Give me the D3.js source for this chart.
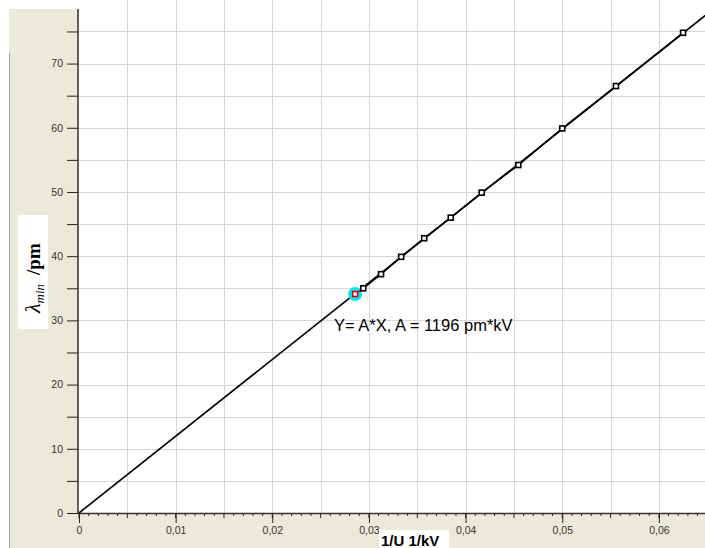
<!DOCTYPE html>
<html>
<head>
<meta charset="utf-8">
<script src="https://cdn.jsdelivr.net/npm/d3@7"></script>
<style>
  html, body { margin: 0; padding: 0; background: #fff; }
  svg { display: block; }
  .tick text { font-family: "Liberation Sans Narrow", "Liberation Sans", Arial, sans-serif; font-size: 10.5px; fill: #333; }
</style>
</head>
<body>
<div id="chart"></div>
<script>
// accelerating voltage U in kV and measured lambda_min in pm
const voltage = [35, 34, 32, 30, 28, 26, 24, 22, 20, 18, 16];
const lambdaMin = [34.1, 35.0, 37.2, 39.9, 42.8, 46.0, 49.9, 54.2, 59.9, 66.5, 74.8];
const slopeA = 1196;
const xTicks = [0, 0.01, 0.02, 0.03, 0.04, 0.05, 0.06];
const yTicks = [0, 10, 20, 30, 40, 50, 60, 70];

const width = 705;
const height = 548;
const points = voltage.map((u, i) => ({ x: 1 / u, y: lambdaMin[i] }));

const svg = d3.select('#chart').append('svg')
  .attr('width', width)
  .attr('height', height);

const xScale = d3.scaleLinear().domain([0, 0.0648]).range([79, 705.3]);
const yScale = d3.scaleLinear().domain([0, 78.5]).range([513, 9]);

// panel background
svg.append('rect').attr('x', 9).attr('y', 9).attr('width', width - 9).attr('height', height - 9).attr('fill', '#ece9d8');
svg.append('line').attr('x1', 9.5).attr('x2', 9.5).attr('y1', 53).attr('y2', height).attr('stroke', '#a9a79c');
svg.append('rect').attr('x', 79).attr('y', 0).attr('width', width - 79).attr('height', 513).attr('fill', '#fff');

// grid
const grid = svg.append('g');
grid.selectAll('.vg').data(d3.range(0.005, 0.065, 0.005)).enter().append('line')
  .attr('x1', d => Math.round(xScale(d)) + 0.5).attr('x2', d => Math.round(xScale(d)) + 0.5)
  .attr('y1', 0).attr('y2', 513)
  .attr('stroke', '#d6d6d6');
grid.selectAll('.hg').data(d3.range(5, 80, 5)).enter().append('line')
  .attr('x1', 79).attr('x2', width)
  .attr('y1', d => Math.round(yScale(d)) + 0.5).attr('y2', d => Math.round(yScale(d)) + 0.5)
  .attr('stroke', '#d6d6d6');

// x axis
const xAxis = d3.axisBottom(xScale)
  .tickValues(xTicks)
  .tickSize(10)
  .tickPadding(4)
  .tickFormat(d => d === 0 ? '0' : d3.format('.2f')(d).replace('.', ','));
const gx = svg.append('g').attr('transform', 'translate(0,513)').call(xAxis);
gx.select('.domain').remove();
gx.selectAll('.tick line').attr('stroke', '#222');
svg.append('g').selectAll('line').data(d3.range(0, 0.065, 0.001)).enter().append('line')
  .attr('x1', d => xScale(d)).attr('x2', d => xScale(d))
  .attr('y1', 513).attr('y2', (d, i) => i % 5 === 0 ? 518 : 516)
  .attr('stroke', '#222');
svg.append('line').attr('x1', 78).attr('x2', width).attr('y1', 513.5).attr('y2', 513.5).attr('stroke', '#333').attr('stroke-width', 1.5);

// y axis
const yAxis = d3.axisLeft(yScale)
  .tickValues(d3.range(0, 80, 5))
  .tickSize(11)
  .tickPadding(4)
  .tickFormat(d => yTicks.includes(d) ? d : '');
const gy = svg.append('g').attr('transform', 'translate(78,0)').call(yAxis);
gy.select('.domain').remove();
gy.selectAll('.tick line').attr('stroke', '#222');
svg.append('line').attr('x1', 78).attr('x2', 78).attr('y1', 9).attr('y2', 514).attr('stroke', '#333').attr('stroke-width', 1.5);

// fit line Y = A*X
const line = d3.line().x(d => xScale(d.x)).y(d => yScale(d.y));
svg.append('path')
  .datum([{ x: 0, y: 0 }, { x: 0.0648, y: slopeA * 0.0648 }])
  .attr('d', line)
  .attr('fill', 'none').attr('stroke', '#000').attr('stroke-width', 1.6);

// measured data line
svg.append('path')
  .datum(points)
  .attr('d', line)
  .attr('fill', 'none').attr('stroke', '#000').attr('stroke-width', 1.6);

// highlighted first point
svg.append('circle')
  .attr('cx', xScale(points[0].x)).attr('cy', yScale(points[0].y))
  .attr('r', 7).attr('fill', '#00e8f0');
svg.append('path')
  .datum(points.slice(0, 2))
  .attr('d', line)
  .attr('fill', 'none').attr('stroke', '#e00000').attr('stroke-width', 1.6);

svg.append('g').selectAll('rect').data(points).enter().append('rect')
  .attr('x', d => xScale(d.x) - 2.5).attr('y', d => yScale(d.y) - 2.5)
  .attr('width', 5).attr('height', 5)
  .attr('fill', '#fff')
  .attr('stroke', (d, i) => i === 0 ? '#e00000' : '#000')
  .attr('stroke-width', 1.6);

// annotation
svg.append('text')
  .attr('x', 334).attr('y', 331)
  .attr('font-family', '"Liberation Sans", Arial, sans-serif')
  .attr('font-size', 16.5)
  .attr('fill', '#000')
  .text('Y= A*X, A = 1196 pm*kV');

// axis titles
svg.append('rect').attr('x', 379).attr('y', 530).attr('width', 70).attr('height', 18).attr('fill', '#fff');
svg.append('text')
  .attr('x', 381).attr('y', 546)
  .attr('font-family', '"Liberation Sans", Arial, sans-serif')
  .attr('font-size', 15).attr('font-weight', 'bold')
  .text('1/U 1/kV');

svg.append('rect').attr('x', 18).attr('y', 215).attr('width', 30).attr('height', 114).attr('fill', '#fff');
const yTitle = svg.append('text')
  .attr('transform', 'translate(40,313) rotate(-90)')
  .attr('font-family', '"Liberation Serif", "Times New Roman", serif')
  .attr('font-size', 19).attr('font-weight', 'bold');
yTitle.append('tspan').attr('font-style', 'italic').attr('font-weight', 'normal').attr('font-size', 22).text('λ');
yTitle.append('tspan').attr('font-style', 'italic').attr('font-weight', 'normal').attr('font-size', 13).attr('dy', 4).text('min');
yTitle.append('tspan').attr('dy', -4).attr('dx', 9).text('/pm');
</script>
</body>
</html>
